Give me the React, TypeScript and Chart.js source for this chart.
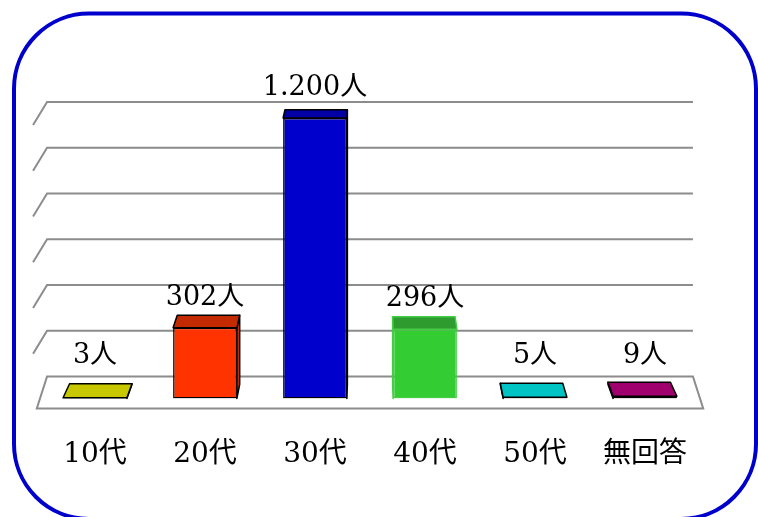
import React, { useEffect, useRef } from 'react';
import { Chart, registerables } from 'chart.js';

Chart.register(...registerables);

// ---- data ----
const categories = ['10代', '20代', '30代', '40代', '50代', '無回答'];
const counts = [3, 302, 1200, 296, 5, 9];
const unitLabel = '人';
const gridValues = [0, 200, 400, 600, 800, 1000, 1200];
const frontColors = ['#C8C800', '#FF3300', '#0000CC', '#33CC33', '#00C4C4', '#A0006E'];
const topColors = ['#C8C800', '#C42A00', '#0000A4', '#2E9B2E', '#00C4C4', '#A0006E'];
const sideColors = ['#A8A800', '#D42C00', '#0000B0', '#3AC43A', '#00A8A8', '#88005C'];
const edgeColors = ['#000000', '#000000', '#000000', '#44CC44', '#000000', '#000000'];

const FONT = '"DejaVu Serif", "Noto Sans CJK JP", serif';

const fmt = (v: number) => String(v).replace(/\B(?=(\d{3})+(?!\d))/g, '.');

const pseudo3d = {
  id: 'pseudo3d',
  beforeDraw(chart: any) {
    const ctx = chart.ctx;
    ctx.save();
    const x0 = 14, y0 = 13.5, x1 = 756, y1 = 519, r = 75;
    ctx.beginPath();
    ctx.moveTo(x0 + r, y0);
    ctx.lineTo(x1 - r, y0);
    ctx.arcTo(x1, y0, x1, y0 + r, r);
    ctx.lineTo(x1, y1 - r);
    ctx.arcTo(x1, y1, x1 - r, y1, r);
    ctx.lineTo(x0 + r, y1);
    ctx.arcTo(x0, y1, x0, y1 - r, r);
    ctx.lineTo(x0, y0 + r);
    ctx.arcTo(x0, y0, x0 + r, y0, r);
    ctx.closePath();
    ctx.lineWidth = 4;
    ctx.strokeStyle = '#0000CC';
    ctx.stroke();
    ctx.restore();
  },
  beforeDatasetsDraw(chart: any) {
    const ctx = chart.ctx;
    const area = chart.chartArea;
    const ys = chart.scales.y;
    const vx = (area.left + area.right) / 2;
    const vy = -630;
    const P = (px: number, py: number, s: number) => [vx + (px - vx) * s, vy + (py - vy) * s];
    const wallS = 0.9786;
    const frontS = 1.0097;
    const y0 = ys.getPixelForValue(0);
    const [bl, by] = P(area.left, y0, wallS);
    const [br] = P(area.right, y0, wallS);
    const [fl, fy] = P(area.left, y0, frontS);
    const [fr] = P(area.right, y0, frontS);
    ctx.save();
    ctx.strokeStyle = '#8C8C8C';
    ctx.lineWidth = 2;
    // floor
    ctx.beginPath();
    ctx.moveTo(bl, by);
    ctx.lineTo(br, by);
    ctx.lineTo(fr, fy);
    ctx.lineTo(fl, fy);
    ctx.closePath();
    ctx.fillStyle = '#FFFFFF';
    ctx.fill();
    ctx.stroke();
    // back wall gridlines
    gridValues.forEach((v) => {
      if (v === 0) return;
      const yy = ys.getPixelForValue(v);
      const [gl, gy] = P(area.left, yy, wallS);
      const [gr] = P(area.right, yy, wallS);
      ctx.beginPath();
      ctx.moveTo(gl - 14, gy + 23);
      ctx.lineTo(gl, gy);
      ctx.lineTo(gr, gy);
      ctx.stroke();
    });
    ctx.restore();
  },
  afterDatasetsDraw(chart: any) {
    const ctx = chart.ctx;
    const area = chart.chartArea;
    const meta = chart.getDatasetMeta(0);
    const vx = (area.left + area.right) / 2;
    const vy = -269;
    const t = 0.021;
    const B = (px: number, py: number) => [px + (vx - px) * t, py + (vy - py) * t];
    ctx.save();
    ctx.lineJoin = 'round';
    meta.data.forEach((bar: any, i: number) => {
      const { x, y, base, width } = bar.getProps(['x', 'y', 'base', 'width'], true);
      const L = x - width / 2, R = x + width / 2;
      const [lbx, lby] = B(L, y);
      const [rbx, rby] = B(R, y);
      const [rbbx, rbby] = B(R, base);
      const [lbbx, lbby] = B(L, base);
      ctx.lineWidth = 1.5;
      ctx.strokeStyle = edgeColors[i];
      // side face
      ctx.beginPath();
      if (x < vx) {
        ctx.moveTo(R, y); ctx.lineTo(rbx, rby); ctx.lineTo(rbbx, rbby); ctx.lineTo(R, base);
      } else {
        ctx.moveTo(L, y); ctx.lineTo(lbx, lby); ctx.lineTo(lbbx, lbby); ctx.lineTo(L, base);
      }
      ctx.closePath();
      ctx.fillStyle = sideColors[i];
      ctx.fill();
      ctx.stroke();
      // top face
      ctx.beginPath();
      ctx.moveTo(L, y); ctx.lineTo(R, y); ctx.lineTo(rbx, rby); ctx.lineTo(lbx, lby);
      ctx.closePath();
      ctx.fillStyle = topColors[i];
      ctx.fill();
      ctx.stroke();
      // value label
      ctx.fillStyle = '#000000';
      ctx.font = `27px ${FONT}`;
      ctx.textAlign = 'center';
      ctx.textBaseline = 'alphabetic';
      const ly = Math.min(y - 23, base - 35);
      ctx.fillText(fmt(counts[i]) + unitLabel, x, ly);
    });
    ctx.restore();
  },
};

export default function App() {
  const ref = useRef<HTMLCanvasElement>(null);
  useEffect(() => {
    if (!ref.current) return;
    const chart = new Chart(ref.current, {
      type: 'bar',
      data: {
        labels: categories,
        datasets: [
          {
            data: counts,
            backgroundColor: frontColors,
            borderColor: edgeColors,
            borderWidth: 1.5,
            borderSkipped: false,
            categoryPercentage: 1,
            barPercentage: 0.58,
          },
        ],
      },
      options: {
        responsive: false,
        devicePixelRatio: 1,
        animation: false,
        layout: { padding: { left: 40, right: 58, top: 118, bottom: 5 } },
        plugins: { legend: { display: false }, tooltip: { enabled: false }, title: { display: false } },
        scales: {
          x: {
            grid: { display: false, drawTicks: false },
            border: { display: false },
            ticks: { color: '#000000', padding: 40, font: { family: FONT, size: 28 } },
          },
          y: { display: false, min: 0, max: 1200 },
        },
      },
      plugins: [pseudo3d],
    });
    return () => chart.destroy();
  }, []);
  return (
    <div style={{ position: 'absolute', left: 0, top: 0, width: 758, height: 517, background: '#fff' }}>
      <canvas ref={ref} width={758} height={517} style={{ display: 'block' }} />
    </div>
  );
}
